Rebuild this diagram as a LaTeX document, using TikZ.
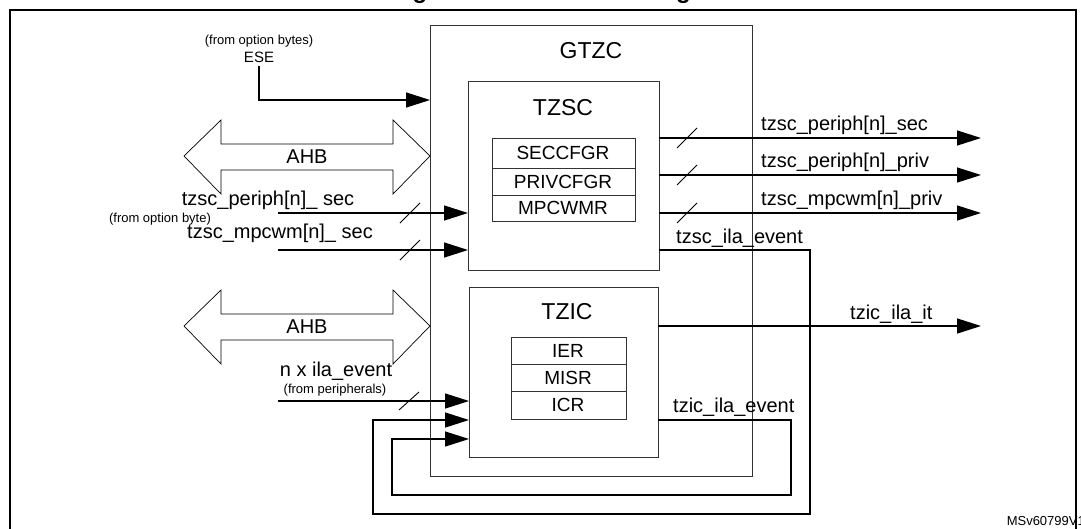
\documentclass[tikz,border=0pt]{standalone}
\usepackage{fontspec}
\setmainfont{Liberation Sans}
\usetikzlibrary{arrows.meta}
\begin{document}
\begin{tikzpicture}[x=1pt,y=-1pt,
  box/.style={draw=black!80,line width=0.8pt},
  sig/.style={line width=1.4pt},
  arr/.style={sig,-{Triangle[length=24pt,width=15pt]}},
  lbl/.style={inner sep=0pt,font=\fontsize{20}{20}\selectfont},
  big/.style={inner sep=0pt,font=\fontsize{23}{23}\selectfont},
  reg/.style={inner sep=0pt,font=\fontsize{19}{19}\selectfont},
  small/.style={inner sep=0pt,font=\fontsize{13}{13}\selectfont},
  bus/.style={draw=black,line width=0.7pt,fill=white},
  slash/.style={line width=0.9pt}]
\useasboundingbox (0,0) rectangle (1081,528);
\node[anchor=base east,inner sep=0pt,font=\bfseries\fontsize{24}{24}\selectfont] (title) at (735,-2) {Figure 1. GTZC block diagram};
\draw[line width=1.3pt] (10,540) -- (10,10) -- (1076,10) -- (1076,540);
\node[anchor=base east,inner sep=0pt,font=\fontsize{13}{13}\selectfont] (ms) at (1085,525) {MSv60799V1};
% GTZC
\draw[box] (430,25) rectangle (752,476);
\node[big] (gtzc) at (591,51) {GTZC};
% TZSC
\draw[box] (468,81) rectangle (659,270);
\node[big] (tzsc) at (563,108) {TZSC};
\draw[box] (492,138) rectangle (635,221);
\draw[box] (492,168) -- (635,168) (492,195) -- (635,195);
\node[reg] (r1) at (563,153) {SECCFGR};
\node[reg] (r2) at (563,182) {PRIVCFGR};
\node[reg] (r3) at (563,208) {MPCWMR};
% TZIC
\draw[box] (469,287) rectangle (658,457);
\node[big] (tzic) at (567,312) {TZIC};
\draw[box] (511,337) rectangle (626,419);
\draw[box] (511,364) -- (626,364) (511,391) -- (626,391);
\node[reg] (r4) at (568,351) {IER};
\node[reg] (r5) at (568,378) {MISR};
\node[reg] (r6) at (568,405) {ICR};
% AHB buses
\foreach \c/\n in {156/a1,326/a2}{
  \draw[bus] (184,\c) -- (221,\c-36) -- (221,\c-12) -- (393,\c-12) -- (393,\c-36) -- (430,\c) -- (393,\c+38) -- (393,\c+14) -- (221,\c+14) -- (221,\c+38) -- cycle;
  \node[lbl] (\n) at (307,\c+1) {AHB};
}
% ESE
\node[small] (ob) at (259,41) {(from option bytes)};
\node[lbl,font=\fontsize{15}{15}\selectfont] (ese) at (259,57) {ESE};
\coordinate (ese0) at (259,66);
\draw[arr] (ese0) |- (430,100);
% left inputs to TZSC
\node[lbl] (l1) at (268,200) {tzsc\_periph[n]\_ sec};
\node[small] (l1b) at (160,219) {(from option byte)};
\node[lbl] (l2) at (280,233) {tzsc\_mpcwm[n]\_ sec};
\coordinate (i1) at (278,213);
\coordinate (i2) at (278,250);
\draw[arr] (i1) -- (468,213);
\draw[arr] (i2) -- (468,250);
\draw[slash] (400,223) -- (420,203) (400,260) -- (420,240);
% outputs from TZSC
\foreach \y/\t/\n in {138/tzsc\_periph[n]\_sec/o1,175/tzsc\_periph[n]\_priv/o2,213/tzsc\_mpcwm[n]\_priv/o3}{
  \coordinate (\n s) at (659,\y);
  \coordinate (\n e) at (981,\y);
  \draw[arr] (\n s) -- (\n e);
  \draw[slash] (677,\y+10) -- (697,\y-10);
  \node[lbl,anchor=base west] (\n t) at (761,\y-8) {\t};
}
% tzsc_ila_event loop
\node[lbl,anchor=base west] (ev1) at (676,243) {tzsc\_ila\_event};
\draw[arr] (659,250) -- (810,250) -- (810,514) -- (373,514) -- (373,420) -- (469,420);
% tzic_ila_it
\node[lbl,anchor=base west] (it) at (850,319) {tzic\_ila\_it};
\draw[arr] (658,326) -- (981,326);
% tzic_ila_event loop
\node[lbl,anchor=base west] (ev2) at (673,412) {tzic\_ila\_event};
\draw[arr] (658,420) -- (791,420) -- (791,495) -- (392,495) -- (392,439) -- (469,439);
% n x ila_event
\node[lbl] (ne) at (336,371) {n x ila\_event};
\node[small] (ne2) at (335,390) {(from peripherals)};
\coordinate (i3) at (278,401);
\draw[arr] (i3) -- (469,401);
\draw[slash] (399,410) -- (419,392);
\end{tikzpicture}
\end{document}
